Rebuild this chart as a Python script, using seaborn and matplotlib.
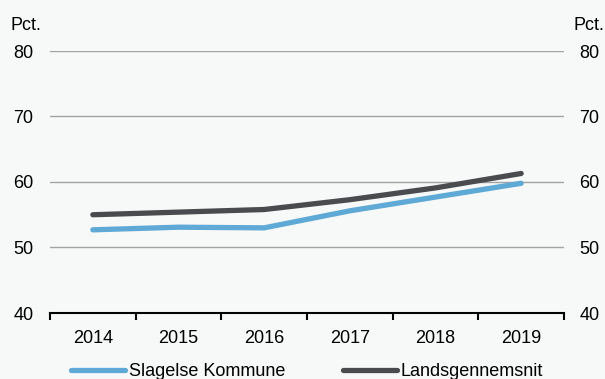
import pandas as pd
import seaborn as sns
import matplotlib.pyplot as plt
from matplotlib.ticker import FixedLocator, NullFormatter

years = [2014, 2015, 2016, 2017, 2018, 2019]
slagelse = [52.7, 53.1, 53.0, 55.6, 57.7, 59.8]
lands = [55.0, 55.4, 55.8, 57.3, 59.1, 61.3]
series_names = ["Slagelse Kommune", "Landsgennemsnit"]
y_ticks = [40, 50, 60, 70, 80]

df = pd.DataFrame({
    "year": years * 2,
    "value": slagelse + lands,
    "serie": [series_names[0]] * len(years) + [series_names[1]] * len(years),
})

bg = "#f7f8f8"
sns.set_style("white", {"axes.facecolor": bg, "figure.facecolor": bg,
                        "text.color": "black", "xtick.color": "black", "ytick.color": "black",
                        "xtick.bottom": True})
plt.rcParams["font.family"] = ["Liberation Sans", "DejaVu Sans"]
plt.rcParams["font.size"] = 13

fig = plt.figure(figsize=(6.05, 3.79), dpi=100)
ax = fig.add_axes([50 / 605, 1 - 313 / 379, 514 / 605, 262 / 379])

palette = {series_names[0]: "#5fa9d6", series_names[1]: "#4a4b4f"}
sns.lineplot(data=df, x="year", y="value", hue="serie", palette=palette,
             linewidth=3.8, solid_capstyle="round", ax=ax, legend=False)

ax.set_xlim(years[0] - 0.5, years[-1] + 0.5)
ax.set_ylim(40, 80)
ax.set_xlabel("")
ax.set_ylabel("")

# category edges get tick marks, labels sit in the middle
ax.xaxis.set_major_locator(FixedLocator([y - 0.5 for y in years] + [years[-1] + 0.5]))
ax.xaxis.set_major_formatter(NullFormatter())
ax.xaxis.set_minor_locator(FixedLocator(years))
ax.set_xticklabels([str(y) for y in years], minor=True)
ax.tick_params(axis="x", which="major", bottom=True, length=5, width=1.5, color="black", direction="out")
ax.tick_params(axis="x", which="minor", bottom=True, length=0, pad=12, labelsize=13, labelcolor="black")

ax.set_yticks(y_ticks)
ax.tick_params(axis="y", length=0, pad=12, labelsize=13, labelcolor="black")
for v in y_ticks[1:]:
    ax.axhline(v, color="#a3a3a3", linewidth=1, zorder=0)

for s in ["top", "left", "right"]:
    ax.spines[s].set_visible(False)
ax.spines["bottom"].set_color("black")
ax.spines["bottom"].set_linewidth(1.5)

ax2 = ax.twinx()
ax2.set_ylim(40, 80)
ax2.set_yticks(y_ticks)
ax2.tick_params(axis="y", length=0, pad=11, labelsize=13, labelcolor="black")
for s in ["top", "left", "right", "bottom"]:
    ax2.spines[s].set_visible(False)

fig.text(10 / 605, 1 - 26 / 379, "Pct.", fontsize=13, va="center", ha="left", color="black")
fig.text(604 / 605, 1 - 26 / 379, "Pct.", fontsize=13, va="center", ha="right", color="black")

handles = [plt.Line2D([], [], color=palette[n], linewidth=3.8, solid_capstyle="round") for n in series_names]
fig.legend(handles, series_names, loc="center", bbox_to_anchor=(307 / 605, 1 - 372 / 379),
           ncol=2, frameon=False, fontsize=13, handlelength=3.0, handletextpad=0.2,
           columnspacing=3.2, borderaxespad=0, labelcolor="black")

fig.savefig("out.png", dpi=100, facecolor=bg)
